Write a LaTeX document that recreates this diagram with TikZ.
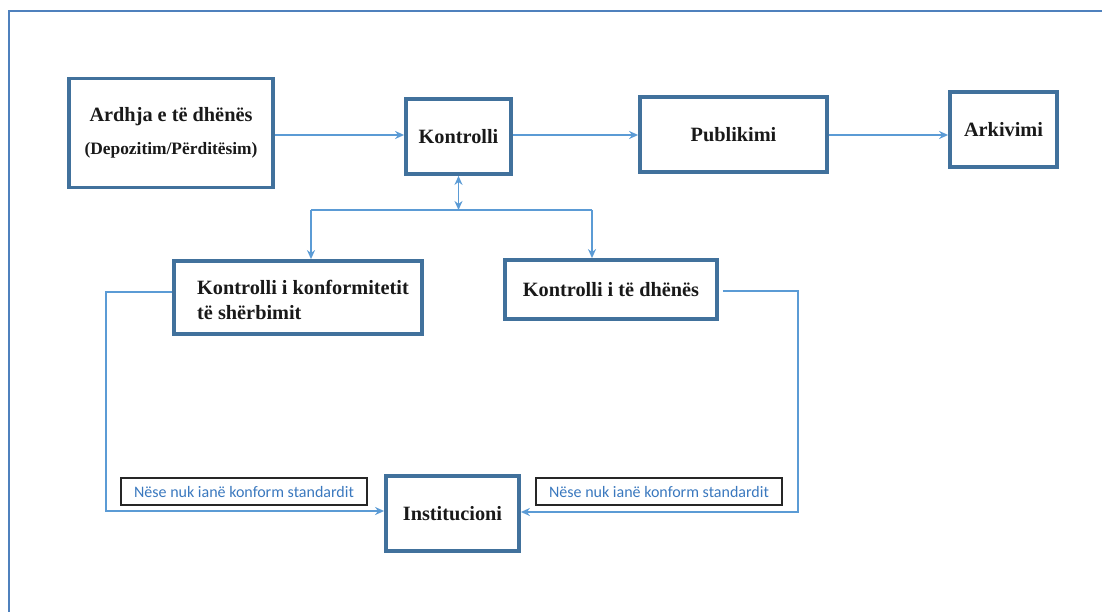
\documentclass[tikz,border=0pt]{standalone}
\usepackage{fontspec}
\setmainfont{Liberation Serif}
\newfontfamily\calib{Carlito}
\usetikzlibrary{arrows.meta}
\definecolor{boxblue}{HTML}{41719C}
\definecolor{lineblue}{HTML}{5B9BD5}
\definecolor{frameblue}{HTML}{4F81BD}
\definecolor{labelblue}{HTML}{3A78BE}
\tikzset{
  stepbox/.style={draw=boxblue, line width=3.8pt, inner sep=0pt, align=center,
    font=\bfseries\fontsize{20.3}{24}\selectfont, text=black!90},
  tip/.style={},
  conn/.style={draw=lineblue, line width=1.8pt, -{Stealth[length=9pt,width=8pt]}},
  plain/.style={draw=lineblue, line width=1.8pt},
  lbl/.style={draw=black!85, line width=1.5pt, inner sep=0pt, minimum width=246pt, minimum height=27pt,
    font=\calib\fontsize{16}{18}\selectfont, text=labelblue},
  frame/.style={draw=frameblue, line width=1.6pt}
}
\begin{document}
\begin{tikzpicture}[x=1pt,y=-1pt]
\useasboundingbox (0,0) rectangle (1102,612);
\draw[frame] (9,612) -- (9,11) -- (1102,11);
% main row
\node[stepbox, minimum width=204pt, minimum height=109pt] (ard) at (171,133)
  {Ardhja e të dhënës\\[9pt]{\fontsize{17.4}{20}\selectfont(Depozitim/Përditësim)}};
\node[stepbox, minimum width=105pt, minimum height=75pt] (kon) at (458.5,136.5) {Kontrolli};
\node[stepbox, minimum width=187pt, minimum height=75pt] (pub) at (733.5,134.5) {Publikimi};
\node[stepbox, minimum width=107pt, minimum height=75pt] (ark) at (1003.5,129.5) {Arkivimi};
% second row
\node[stepbox, minimum width=248pt, minimum height=73pt] (konf) at (298,297.5) {};
\node[font=\bfseries\fontsize{20.3}{25}\selectfont, align=left, anchor=north west, inner sep=0pt, text=black!90] (konft) at (197,280)
  {Kontrolli i konformitetit\\të shërbimit};
\node[stepbox, minimum width=212pt, minimum height=59pt] (dat) at (611,289.5) {Kontrolli i të dhënës};
% bottom
\node[stepbox, minimum width=133pt, minimum height=75pt] (inst) at (452.5,513.5) {Institucioni};
\node[lbl] (l1) at (244,491.5) {Nëse nuk ianë konform standardit};
\node[lbl] (l2) at (659,491.5) {Nëse nuk ianë konform standardit};
% connectors top row
\draw[conn] (ard.east |- 0,135) -- (kon.west |- 0,135);
\draw[conn] (kon.east |- 0,135) -- (pub.west |- 0,135);
\draw[conn] (pub.east |- 0,135) -- (ark.west |- 0,135);
% branch
\coordinate (jn) at (458.5,210);
\coordinate (jl) at (311,210);
\coordinate (jr) at (592,210);
\draw[conn, {Stealth[length=9pt,width=8pt]}-{Stealth[length=9pt,width=8pt]}] (kon.south) -- (jn);
\draw[plain] (jl) -- (jr);
\draw[conn] (jl) -- (jl |- konf.north);
\draw[conn] (jr) -- (jr |- dat.north);
% feedback loops
\coordinate (lc1) at (106,292);
\coordinate (lc2) at (106,511);
\coordinate (rc1) at (798,291);
\coordinate (rc2) at (798,512);
\draw[conn] (konf.west |- lc1) -- (lc1) -- (lc2) -- (inst.west |- lc2);
\draw[conn] ([xshift=4pt]dat.east |- rc1) -- (rc1) -- (rc2) -- (inst.east |- rc2);
\end{tikzpicture}
\end{document}
